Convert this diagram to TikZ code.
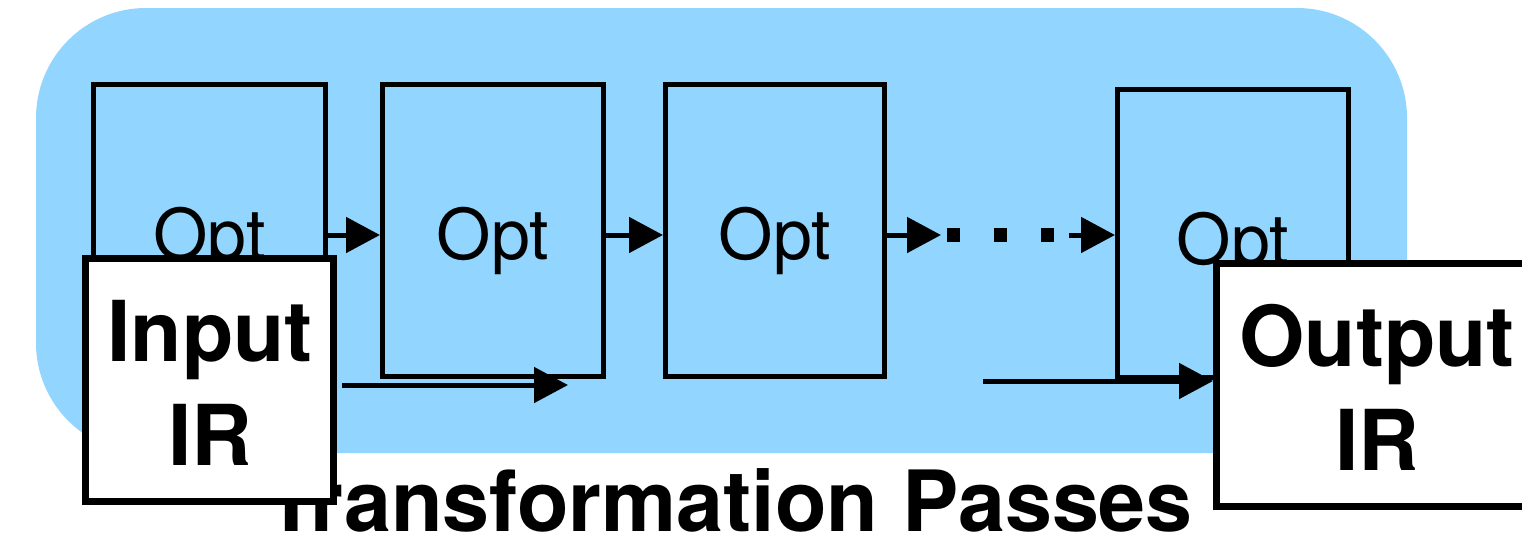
\documentclass[tikz,border=0pt]{standalone}
\usepackage{fontspec}
\setmainfont{TeX Gyre Heros}
\usetikzlibrary{arrows.meta}
\definecolor{passblue}{RGB}{146,213,254}
\begin{document}
\begin{tikzpicture}[x=1pt,y=-1pt,
  optbox/.style={draw=black, line width=5pt, inner sep=0pt, minimum height=292pt},
  iobox/.style={draw=black, fill=white, line width=7pt, inner sep=0pt, minimum height=243pt},
  opttext/.style={inner sep=0pt, anchor=base, font=\fontsize{70}{84}\selectfont},
  iotext/.style={inner sep=0pt, anchor=base, font=\fontsize{84}{100}\selectfont\bfseries},
  arr/.style={line width=5pt, -{Triangle[length=34pt,width=35pt]}},
  dotline/.style={line width=14pt, dash pattern=on 13pt off 34pt}]
\useasboundingbox (0,0) rectangle (1522,544);

% the pass pipeline panel
\fill[passblue, rounded corners=110pt] (36,8) rectangle (1407,453);

% optimisation passes
\node[optbox, minimum width=232pt] (o1) at (209.5,230.5) {};
\node[optbox, minimum width=221pt] (o2) at (493,230.5) {};
\node[optbox, minimum width=219pt] (o3) at (775,230.5) {};
\node[optbox, minimum width=231pt, minimum height=288pt] (o4) at (1233,233.5) {};
\node[opttext] (t1) at (209.5,259) {Opt};
\node[opttext] (t2) at (493,259) {Opt};
\node[opttext] (t3) at (775,259) {Opt};
\node[opttext] (t4) at (1233,264) {Opt};

% chaining arrows
\coordinate (y) at (0,235);
\draw[arr] (o1.east |- y) -- (o2.west |- y);
\draw[arr] (o2.east |- y) -- (o3.west |- y);
\coordinate (d1) at (941,235);
\coordinate (d2) at (947,235);
\coordinate (d3) at (1062,235);
\coordinate (d4) at (1069,235);
\draw[arr] (o3.east |- y) -- (d1);
\draw[dotline] (d2) -- (d3);
\draw[arr] (d4) -- (o4.west |- y);

% caption
\node[inner sep=0pt, anchor=base, font=\fontsize{84.5}{100}\selectfont\bfseries] (cap) at (729,531) {Transformation Passes};

% input and output
\node[iobox, minimum width=248pt] (in) at (209.5,380) {};
\node[iotext] (inA) at (210,361) {Input};
\node[iotext] (inB) at (210,465) {IR};
\node[iobox, minimum width=321pt] (out) at (1377,385) {};
\node[iotext] (outA) at (1377,366) {Output};
\node[iotext] (outB) at (1377,470) {IR};

% bypass arrows along the bottom
\coordinate (b1) at (342,385);
\coordinate (b2) at (568,385);
\coordinate (b3) at (983,381);
\draw[arr] (b1) -- (b2);
\draw[arr] (b3) -- (out.west |- b3);
\end{tikzpicture}
\end{document}
